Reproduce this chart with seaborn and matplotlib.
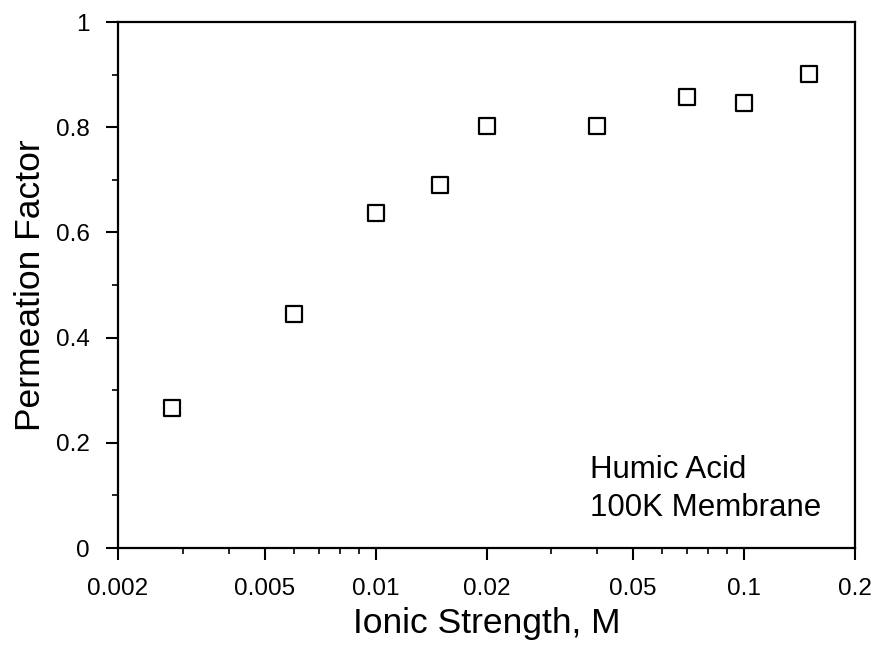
import matplotlib
matplotlib.use("Agg")
import matplotlib.pyplot as plt
import seaborn as sns
import pandas as pd
from matplotlib.ticker import FixedLocator, FixedFormatter, LogLocator, MultipleLocator, NullFormatter

ionic_strength = [0.0028, 0.006, 0.01, 0.015, 0.02, 0.04, 0.07, 0.1, 0.15]
permeation = [0.267, 0.444, 0.636, 0.691, 0.802, 0.802, 0.857, 0.846, 0.901]
xtick_vals = [0.002, 0.005, 0.01, 0.02, 0.05, 0.1, 0.2]
xtick_labels = ["0.002", "0.005", "0.01", "0.02", "0.05", "0.1", "0.2"]
ytick_vals = [0, 0.2, 0.4, 0.6, 0.8, 1.0]
ytick_labels = ["0", "0.2", "0.4", "0.6", "0.8", "1"]

sns.set_theme(style="ticks")
plt.rcParams['font.family'] = ['Liberation Sans', 'DejaVu Sans']

df = pd.DataFrame({"x": ionic_strength, "y": permeation})

fig = plt.figure(figsize=(8.82, 6.49), dpi=100)
ax = fig.add_axes([0.1338, 0.1556, 0.9694 - 0.1338, 0.9661 - 0.1556])

sns.scatterplot(data=df, x="x", y="y", ax=ax, marker="s", s=130,
                facecolor="white", edgecolor="black", linewidth=1.6, zorder=3)

ax.set_xscale("log")
ax.set_xlim(0.002, 0.2)
ax.set_ylim(0, 1)
ax.xaxis.set_major_locator(FixedLocator(xtick_vals))
ax.xaxis.set_major_formatter(FixedFormatter(xtick_labels))
ax.xaxis.set_minor_locator(LogLocator(base=10, subs=[1, 2, 3, 4, 5, 6, 7, 8, 9]))
ax.xaxis.set_minor_formatter(NullFormatter())
ax.yaxis.set_major_locator(FixedLocator(ytick_vals))
ax.yaxis.set_major_formatter(FixedFormatter(ytick_labels))
ax.yaxis.set_minor_locator(MultipleLocator(0.1))

for s in ax.spines.values():
    s.set_linewidth(1.6)
    s.set_color("black")

ax.tick_params(axis="both", which="major", direction="out", length=8.5, width=1.5,
               labelsize=17.5, color="black", labelcolor="black")
ax.tick_params(axis="x", which="major", pad=13)
ax.tick_params(axis="y", which="major", pad=12)
ax.tick_params(axis="both", which="minor", direction="out", length=4.5, width=1.2, color="black")
ax.tick_params(top=False, right=False, which="both")

ax.set_xlabel("Ionic Strength, M", fontsize=25.5, color="black", labelpad=5)
ax.set_ylabel("Permeation Factor", fontsize=25.5, color="black", labelpad=6)

ax.text(0.640, 0.176, "Humic Acid\n100K Membrane", transform=ax.transAxes,
        fontsize=22.5, color="black", ha="left", va="top", linespacing=1.32)

fig.savefig("out.png", dpi=100)
